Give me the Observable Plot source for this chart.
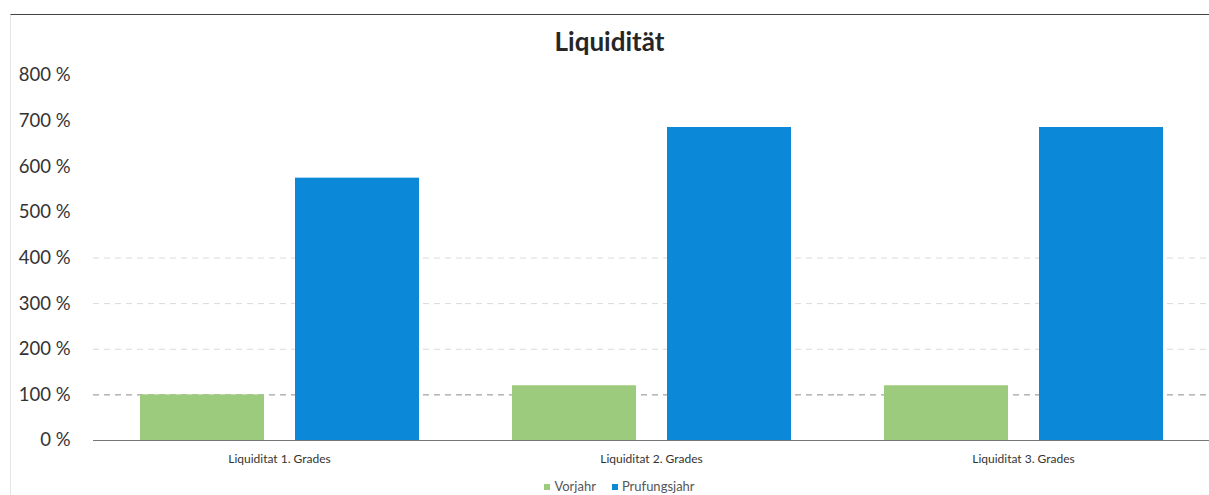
<!DOCTYPE html>
<html>
<head>
<meta charset="utf-8">
<script src="https://cdn.jsdelivr.net/npm/d3@7"></script>
<script src="https://cdn.jsdelivr.net/npm/@observablehq/plot@0.6"></script>
<style>
  html, body { margin: 0; padding: 0; background: #fff; }
  body { width: 1209px; height: 495px; position: relative; overflow: hidden; font-family: Lato, "Open Sans", sans-serif; }
  #frame { position: absolute; left: 10px; top: 14px; width: 1199px; height: 481px;
           border-top: 1.5px solid #444; border-left: 1px solid #e4e4e4; box-sizing: border-box; }
  #title { position: absolute; left: 10px; width: 1199px; top: 26px; text-align: center;
           font-size: 26px; font-weight: bold; color: #262626; line-height: 30px; }
  #chart { position: absolute; left: 0; top: 60px; }
  #legend { position: absolute; left: 20px; width: 1199px; top: 479px; text-align: center;
            font-size: 13px; color: #555; line-height: 15px; }
  #legend span.sw { display: inline-block; width: 6px; height: 6px; margin-right: 4px; vertical-align: 1px; }
  #legend span.item { margin: 0 8px; }
</style>
</head>
<body>
<div id="frame"></div>
<div id="title">Liquidität</div>
<div id="chart"></div>
<div id="legend"></div>
<script>
// Kennzahlen je Liquiditätsgrad (in %)
const categories = ["Liquiditat 1. Grades", "Liquiditat 2. Grades", "Liquiditat 3. Grades"];
const seriesNames = ["Vorjahr", "Prufungsjahr"];
const vorjahr = [100, 120, 120];
const pruefungsjahr = [575, 686, 686];
const seriesColors = ["#9dcb7e", "#0b88d8"];
const yTicks = [0, 100, 200, 300, 400, 500, 600, 700, 800];
const gridLines = [100, 200, 300, 400];

const rows = categories.flatMap((c, i) => [
  {category: c, series: seriesNames[0], value: vorjahr[i]},
  {category: c, series: seriesNames[1], value: pruefungsjahr[i]}
]);

const chart = Plot.plot({
  width: 1209,
  height: 415,
  marginLeft: 92,
  marginRight: 0,
  marginTop: 15,
  marginBottom: 35,
  style: {fontFamily: "Lato, 'Open Sans', sans-serif", background: "transparent"},
  fx: {domain: categories, padding: 0, label: null, axis: "bottom", tickSize: 0, tickPadding: 14},
  x: {domain: seriesNames, paddingInner: 0.2, paddingOuter: 0.3, axis: null},
  y: {domain: [0, 800], label: null, ticks: yTicks, tickSize: 0, tickPadding: 23,
      tickFormat: d => `${d} %`},
  color: {domain: seriesNames, range: seriesColors},
  marks: [
    Plot.ruleY(gridLines, {y: d => d, stroke: d => d === 100 ? "#8a8a8a" : "#dadada",
      strokeDasharray: "6,5", strokeWidth: 1, facet: "exclude"}),
    Plot.barY(rows, {fx: "category", x: "series", y: "value", fill: "series"}),
    Plot.ruleY([0], {stroke: "#777", strokeWidth: 1})
  ]
});

// Schriftgrößen der Achsen anpassen
d3.select(chart).selectAll("[aria-label='y-axis tick label'] text")
  .attr("font-size", 18.5).attr("fill", "#333");
d3.select(chart).selectAll("[aria-label='fx-axis tick label'] text")
  .attr("font-size", 12).attr("fill", "#333");

document.getElementById("chart").appendChild(chart);

// Legende
const legend = document.getElementById("legend");
seriesNames.forEach((name, i) => {
  const item = document.createElement("span");
  item.className = "item";
  const sw = document.createElement("span");
  sw.className = "sw";
  sw.style.background = seriesColors[i];
  item.appendChild(sw);
  item.appendChild(document.createTextNode(name));
  legend.appendChild(item);
});
</script>
</body>
</html>
